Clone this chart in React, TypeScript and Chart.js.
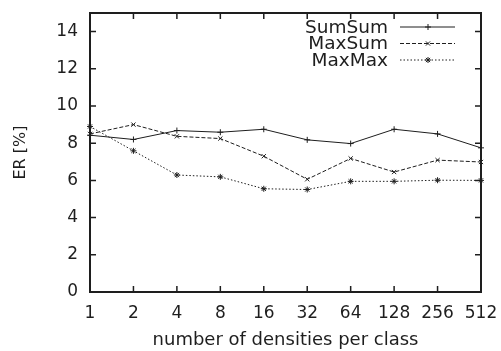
import React, { useEffect, useRef } from 'react';
import { Chart, registerables } from 'chart.js';

Chart.register(...registerables);

const categories = ['1', '2', '4', '8', '16', '32', '64', '128', '256', '512'];
const sumSum = [8.43, 8.2, 8.68, 8.59, 8.75, 8.18, 7.98, 8.75, 8.5, 7.75];
const maxSum = [8.5, 9.0, 8.37, 8.25, 7.3, 6.06, 7.18, 6.45, 7.09, 6.99];
const maxMax = [8.9, 7.59, 6.29, 6.19, 5.55, 5.51, 5.95, 5.95, 6.01, 6.0];
const yTicks = [0, 2, 4, 6, 8, 10, 12, 14];
const seriesNames = ['SumSum', 'MaxSum', 'MaxMax'];

const FONT = 'DejaVu Sans';
const INK = '#1e1e1e';

function drawMarker(ctx: CanvasRenderingContext2D, style: string, r: number, x: number, y: number) {
  ctx.beginPath();
  if (style === 'cross' || style === 'star') {
    ctx.moveTo(x - r, y);
    ctx.lineTo(x + r, y);
    ctx.moveTo(x, y - r);
    ctx.lineTo(x, y + r);
  }
  if (style === 'crossRot' || style === 'star') {
    const d = r * Math.SQRT1_2;
    ctx.moveTo(x - d, y - d);
    ctx.lineTo(x + d, y + d);
    ctx.moveTo(x - d, y + d);
    ctx.lineTo(x + d, y - d);
  }
  ctx.stroke();
}

const framePlugin = {
  id: 'gnuFrame',
  afterDraw(chart: any) {
    const { ctx, chartArea, scales } = chart;
    const { left, right, top, bottom } = chartArea;
    const xs = scales.x;
    const ys = scales.y;
    ctx.save();
    ctx.strokeStyle = INK;
    ctx.lineWidth = 1.5;
    const tl = 6;
    ctx.beginPath();
    xs.ticks.forEach((_t: any, i: number) => {
      const px = xs.getPixelForTick(i);
      ctx.moveTo(px, bottom);
      ctx.lineTo(px, bottom - tl);
      ctx.moveTo(px, top);
      ctx.lineTo(px, top + tl);
    });
    ys.ticks.forEach((_t: any, i: number) => {
      const py = ys.getPixelForTick(i);
      ctx.moveTo(left, py);
      ctx.lineTo(left + tl, py);
      ctx.moveTo(right, py);
      ctx.lineTo(right - tl, py);
    });
    ctx.stroke();
    ctx.lineWidth = 2;
    ctx.strokeRect(left, top, right - left, bottom - top);
    ctx.restore();
  },
};

const legendPlugin = {
  id: 'gnuLegend',
  afterDraw(chart: any) {
    const { ctx } = chart;
    ctx.save();
    ctx.font = `18.5px "${FONT}"`;
    ctx.textAlign = 'right';
    ctx.textBaseline = 'middle';
    chart.data.datasets.forEach((ds: any, i: number) => {
      const y = 27 + i * 16.5;
      ctx.fillStyle = INK;
      ctx.fillText(ds.label, 388, y + 1);
      ctx.strokeStyle = ds.borderColor;
      ctx.lineWidth = ds.borderWidth;
      ctx.setLineDash(ds.borderDash || []);
      ctx.beginPath();
      ctx.moveTo(400, y);
      ctx.lineTo(455, y);
      ctx.stroke();
      ctx.setLineDash([]);
      drawMarker(ctx, ds.pointStyle, ds.pointRadius, 428, y);
    });
    ctx.restore();
  },
};

export default function App() {
  const ref = useRef<HTMLCanvasElement | null>(null);

  useEffect(() => {
    document.body.style.margin = '0';
    const canvas = ref.current;
    if (!canvas) return;
    const mk = (label: string, data: number[], style: string, dash: number[]) => ({
      label,
      data,
      borderColor: INK,
      backgroundColor: INK,
      pointBorderColor: INK,
      pointBackgroundColor: INK,
      borderWidth: 1,
      borderDash: dash,
      pointStyle: style,
      pointRadius: 3,
      pointBorderWidth: 1,
      tension: 0,
      fill: false,
      clip: false as any,
    });
    const chart = new Chart(canvas, {
      type: 'line',
      data: {
        labels: categories,
        datasets: [
          mk(seriesNames[0], sumSum, 'cross', []),
          mk(seriesNames[1], maxSum, 'crossRot', [4, 2]),
          mk(seriesNames[2], maxMax, 'star', [1.5, 2]),
        ],
      },
      options: {
        animation: false,
        responsive: false,
        devicePixelRatio: 1,
        layout: { padding: { top: 13, right: 20, left: 0, bottom: 0 } },
        plugins: {
          legend: { display: false },
          tooltip: { enabled: false },
        },
        scales: {
          x: {
            type: 'category',
            offset: false,
            grid: { display: false, drawTicks: false },
            border: { display: false },
            ticks: {
              color: INK,
              font: { family: FONT, size: 17 },
              padding: 11,
              maxRotation: 0,
              autoSkip: false,
            },
            title: {
              display: true,
              text: 'number of densities per class',
              color: INK,
              font: { family: FONT, size: 18 },
              padding: { top: 0, bottom: 0 },
            },
            afterFit: (s: any) => {
              s.height = 59;
              s.paddingLeft = 0;
              s.paddingRight = 0;
            },
          },
          y: {
            type: 'linear',
            min: 0,
            max: 15,
            grid: { display: false, drawTicks: false },
            border: { display: false },
            afterBuildTicks: (s: any) => {
              s.ticks = yTicks.map((v) => ({ value: v }));
            },
            ticks: {
              color: INK,
              font: { family: FONT, size: 17 },
              padding: 12,
            },
            title: {
              display: true,
              text: 'ER [%]',
              color: INK,
              font: { family: FONT, size: 16 },
              padding: { top: 11, bottom: 0 },
            },
            afterFit: (s: any) => {
              s.width = 90;
              s.paddingTop = 0;
              s.paddingBottom = 0;
            },
          },
        },
      },
      plugins: [framePlugin, legendPlugin],
    });
    return () => chart.destroy();
  }, []);

  return (
    <div style={{ width: 501, height: 351 }}>
      <canvas ref={ref} width={501} height={351} style={{ display: 'block' }} />
    </div>
  );
}
